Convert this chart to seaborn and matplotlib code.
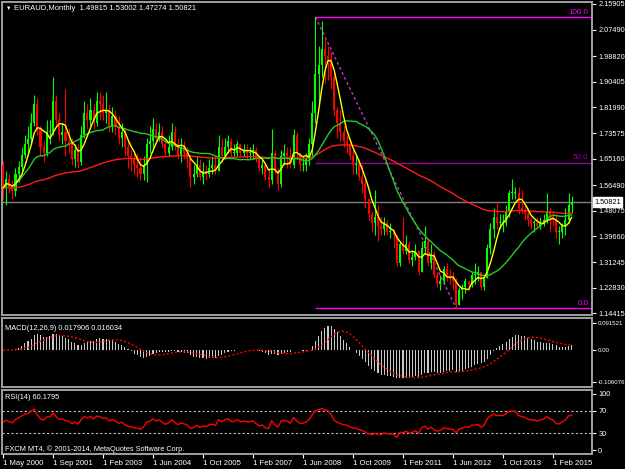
import matplotlib
matplotlib.use("Agg")
import matplotlib.pyplot as plt
import matplotlib.transforms as mtrans
import numpy as np
import pandas as pd
import seaborn as sns

# monthly EURAUD bars, May 2000 .. Aug 2015 (one month missing in 2002, as in the terminal)
closes = [
    1.555, 1.585, 1.56, 1.545, 1.60, 1.625, 1.665, 1.70,                          # 2000
    1.715, 1.77, 1.83, 1.75, 1.69, 1.67, 1.74, 1.74, 1.84, 1.78, 1.73, 1.74,      # 2001
    1.71, 1.70, 1.65, 1.68, 1.64, 1.73, 1.80, 1.78, 1.81, 1.77, 1.84,             # 2002
    1.83, 1.80, 1.81, 1.76, 1.79, 1.76, 1.72, 1.74, 1.69, 1.66, 1.65, 1.63,       # 2003
    1.62, 1.60, 1.63, 1.70, 1.71, 1.75, 1.72, 1.74, 1.70, 1.67, 1.69, 1.74,       # 2004
    1.70, 1.66, 1.69, 1.67, 1.65, 1.59, 1.60, 1.63, 1.59, 1.61, 1.60, 1.62,       # 2005
    1.63, 1.61, 1.69, 1.66, 1.69, 1.71, 1.67, 1.67, 1.70, 1.67, 1.68, 1.67,       # 2006
    1.67, 1.68, 1.65, 1.62, 1.63, 1.59, 1.58, 1.67, 1.61, 1.57, 1.66, 1.67,       # 2007
    1.66, 1.63, 1.73, 1.67, 1.63, 1.63, 1.65, 1.70, 1.80, 1.93, 1.96, 2.01,       # 2008
    1.99, 1.98, 1.92, 1.81, 1.77, 1.74, 1.71, 1.70, 1.66, 1.63, 1.63, 1.59,       # 2009
    1.57, 1.52, 1.47, 1.44, 1.46, 1.43, 1.42, 1.44, 1.41, 1.41, 1.40, 1.31,       # 2010
    1.37, 1.35, 1.37, 1.32, 1.33, 1.35, 1.28, 1.36, 1.38, 1.31, 1.34, 1.27,       # 2011
    1.24, 1.25, 1.29, 1.27, 1.26, 1.25, 1.17, 1.22, 1.23, 1.25, 1.24, 1.27,       # 2012
    1.27, 1.28, 1.23, 1.26, 1.36, 1.42, 1.46, 1.44, 1.44, 1.44, 1.48, 1.54,       # 2013
    1.54, 1.54, 1.49, 1.48, 1.47, 1.45, 1.44, 1.44, 1.43, 1.44, 1.45, 1.48,       # 2014
    1.46, 1.45, 1.41, 1.41, 1.43, 1.45, 1.49815, 1.50821,                         # 2015
]
highs = [
    1.645, 1.61, 1.60, 1.58, 1.62, 1.645, 1.69, 1.73,
    1.76, 1.80, 1.86, 1.85, 1.76, 1.71, 1.78, 1.78, 1.92, 1.86, 1.80, 1.77,
    1.88, 1.75, 1.72, 1.70, 1.70, 1.76, 1.84, 1.83, 1.85, 1.83, 1.87,
    1.87, 1.86, 1.87, 1.83, 1.82, 1.81, 1.79, 1.77, 1.75, 1.71, 1.68, 1.67,
    1.67, 1.65, 1.66, 1.72, 1.76, 1.785, 1.77, 1.77, 1.76, 1.72, 1.73, 1.77,
    1.76, 1.72, 1.72, 1.71, 1.69, 1.66, 1.63, 1.66, 1.65, 1.64, 1.63, 1.65,
    1.66, 1.66, 1.73, 1.72, 1.72, 1.73, 1.72, 1.70, 1.71, 1.70, 1.70, 1.70,
    1.69, 1.70, 1.69, 1.66, 1.65, 1.64, 1.62, 1.75, 1.68, 1.62, 1.68, 1.70,
    1.69, 1.69, 1.75, 1.74, 1.67, 1.66, 1.67, 1.72, 1.84, 2.116, 2.02, 2.103,
    2.05, 2.02, 2.00, 1.94, 1.82, 1.81, 1.76, 1.73, 1.72, 1.68, 1.66, 1.65,
    1.63, 1.58, 1.52, 1.48, 1.55, 1.50, 1.46, 1.46, 1.45, 1.44, 1.42, 1.40,
    1.38, 1.46, 1.40, 1.38, 1.35, 1.37, 1.35, 1.38, 1.43, 1.39, 1.37, 1.35,
    1.28, 1.27, 1.30, 1.31, 1.29, 1.28, 1.26, 1.23, 1.24, 1.26, 1.25, 1.28,
    1.31, 1.30, 1.28, 1.27, 1.37, 1.44, 1.49, 1.51, 1.47, 1.47, 1.50, 1.55,
    1.586, 1.56, 1.56, 1.55, 1.50, 1.48, 1.46, 1.45, 1.46, 1.46, 1.47, 1.54,
    1.49, 1.48, 1.47, 1.43, 1.44, 1.49, 1.54, 1.53002,
]
lows = [
    1.52, 1.50, 1.54, 1.52, 1.53, 1.575, 1.61, 1.655,
    1.67, 1.70, 1.76, 1.73, 1.66, 1.64, 1.66, 1.70, 1.73, 1.76, 1.71, 1.70,
    1.66, 1.67, 1.63, 1.625, 1.62, 1.63, 1.72, 1.75, 1.76, 1.75, 1.76,
    1.78, 1.78, 1.77, 1.74, 1.74, 1.73, 1.70, 1.69, 1.66, 1.62, 1.61, 1.60,
    1.59, 1.58, 1.58, 1.575, 1.67, 1.68, 1.70, 1.71, 1.69, 1.66, 1.66, 1.68,
    1.68, 1.65, 1.64, 1.65, 1.62, 1.56, 1.57, 1.59, 1.58, 1.57, 1.58, 1.59,
    1.60, 1.60, 1.61, 1.64, 1.65, 1.67, 1.66, 1.66, 1.66, 1.66, 1.66, 1.65,
    1.65, 1.65, 1.64, 1.61, 1.60, 1.58, 1.56, 1.57, 1.60, 1.55, 1.56, 1.63,
    1.62, 1.62, 1.62, 1.65, 1.61, 1.61, 1.61, 1.63, 1.66, 1.77, 1.83, 1.92,
    1.90, 1.91, 1.88, 1.79, 1.72, 1.71, 1.69, 1.67, 1.65, 1.60, 1.60, 1.58,
    1.54, 1.49, 1.45, 1.41, 1.40, 1.38, 1.40, 1.40, 1.40, 1.39, 1.36, 1.30,
    1.30, 1.34, 1.34, 1.31, 1.30, 1.32, 1.27, 1.28, 1.34, 1.30, 1.29, 1.26,
    1.23, 1.22, 1.24, 1.25, 1.24, 1.22, 1.161, 1.17, 1.19, 1.21, 1.22, 1.23,
    1.24, 1.25, 1.22, 1.22, 1.26, 1.34, 1.39, 1.42, 1.42, 1.41, 1.43, 1.46,
    1.52, 1.52, 1.47, 1.47, 1.45, 1.43, 1.42, 1.41, 1.42, 1.42, 1.43, 1.44,
    1.41, 1.43, 1.39, 1.37, 1.39, 1.40, 1.44, 1.47274,
]
first_open = 1.63

date_labels = ["1 May 2000", "1 Sep 2001", "1 Feb 2003", "1 Jun 2004", "1 Oct 2005",
               "1 Feb 2007", "1 Jun 2008", "1 Oct 2009", "1 Feb 2011", "1 Jun 2012",
               "1 Oct 2013", "1 Feb 2015"]
label_every = 16
price_ticks = [2.15905, 2.07490, 1.98820, 1.90405, 1.81990, 1.73575, 1.65160,
               1.56490, 1.48075, 1.39660, 1.31245, 1.22830, 1.14415]
macd_ticks = [0.091521, 0.0, -0.106076]
macd_tick_labels = ["0.091521", "0.00", "-0.106076"]
rsi_ticks = [100, 70, 30, 0]

fib_bar_high, fib_price_high = 100, 2.116
fib_bar_low, fib_price_low = 145, 1.161
last_price = 1.50821

W, H = 625, 469
FS = 5.3


def px(x, y):
    return x / W, 1 - y / H


def main():
    sns.set_style("dark", {"axes.facecolor": "black", "figure.facecolor": "black"})
    plt.rcParams["font.family"] = ["Liberation Sans", "DejaVu Sans"]

    n = len(closes)
    opens = [first_open] + closes[:-1]
    df = pd.DataFrame({"bar": np.arange(n), "open": opens, "high": highs,
                       "low": lows, "close": closes})
    c = df["close"]
    df["ma_fast"] = c.rolling(5, min_periods=1).mean()
    df["ma_mid"] = c.rolling(21, min_periods=1).mean()
    df["ma_slow"] = c.ewm(span=100, adjust=False).mean()
    ema12 = c.ewm(span=12, adjust=False).mean()
    ema26 = c.ewm(span=26, adjust=False).mean()
    df["macd"] = ema12 - ema26
    df["signal"] = df["macd"].rolling(9, min_periods=1).mean()
    # Wilder RSI, started from a neutral state
    delta = c.diff()
    seed = delta.abs().mean() / 2
    up = delta.clip(lower=0).fillna(seed)
    down = (-delta.clip(upper=0)).fillna(seed)
    gain = up.ewm(alpha=1 / 14, adjust=False).mean()
    loss = down.ewm(alpha=1 / 14, adjust=False).mean()
    df["rsi"] = 100 - 100 / (1 + gain / loss)

    fig = plt.figure(figsize=(W / 100, H / 100), dpi=100)
    ax = fig.add_axes([2 / W, 1 - 315 / H, 590 / W, 313 / H])
    ax_m = fig.add_axes([2 / W, 1 - 387 / H, 590 / W, 69 / H])
    ax_r = fig.add_axes([2 / W, 1 - 454 / H, 590 / W, 64 / H])

    xlim = (-0.32, 188.5)

    # candles
    bull = df["close"] >= df["open"]
    colors = np.where(bull, "#00ff00", "#ff0000")
    ax.vlines(df["bar"], df["low"], df["high"], colors=colors, linewidth=0.8, zorder=3)
    body_lo = np.minimum(df["open"], df["close"])
    body_h = np.maximum(np.abs(df["close"] - df["open"]), 0.003)
    ax.bar(df["bar"], body_h, bottom=body_lo, width=0.65, color=colors, linewidth=0, zorder=3)

    sns.lineplot(data=df, x="bar", y="ma_slow", color="#ff1a1a", linewidth=1, ax=ax, zorder=4)
    sns.lineplot(data=df, x="bar", y="ma_mid", color="#22cc22", linewidth=1, ax=ax, zorder=4)
    sns.lineplot(data=df, x="bar", y="ma_fast", color="#ffff00", linewidth=1, ax=ax, zorder=4)

    # fibonacci levels
    fib_mid = (fib_price_high + fib_price_low) / 2
    ax.hlines([fib_price_high, fib_price_low], fib_bar_high, xlim[1], colors="#ff00ff", linewidth=1, zorder=2)
    ax.hlines(fib_mid, fib_bar_high, xlim[1], colors="#a000a0", linewidth=1, zorder=2)
    ax.plot([fib_bar_high, fib_bar_low], [fib_price_high, fib_price_low], color="#cc33cc",
            linestyle=(0, (2, 2)), linewidth=1, zorder=2)
    for lvl, txt, col in [(fib_price_high, "100.0", "#ff00ff"), (fib_mid, "50.0", "#a000a0"),
                          (fib_price_low, "0.0", "#ff00ff")]:
        ax.text(xlim[1] - 1.2, lvl + 0.004, txt, color=col, fontsize=FS + 0.5, ha="right", va="bottom")

    ax.axhline(last_price, color="#808080", linewidth=1, zorder=1)
    ax.set_ylim(1.1386, 2.1656)
    ax.set_yticks(price_ticks)
    ax.set_yticklabels([f"{t:.5f}" for t in price_ticks])
    trans = mtrans.blended_transform_factory(ax.transAxes, ax.transData)
    ax.text(1.004, last_price, f"{last_price:.5f}", transform=trans, color="black",
            fontsize=FS, va="center", ha="left",
            bbox=dict(boxstyle="square,pad=0.2", fc="white", ec="white"), clip_on=False)

    # MACD
    ax_m.bar(df["bar"], df["macd"], width=0.35, color="#c8c8c8", linewidth=0)
    sns.lineplot(data=df, x="bar", y="signal", color="#ff0000", linewidth=1,
                 linestyle=(0, (1.5, 1.5)), ax=ax_m)
    ax_m.set_ylim(-0.1240, 0.1095)
    ax_m.set_yticks(macd_ticks)
    ax_m.set_yticklabels(macd_tick_labels)

    # RSI
    for lvl in (70, 30):
        ax_r.axhline(lvl, color="#c0c0c0", linewidth=0.8, linestyle=(0, (2, 2)))
    sns.lineplot(data=df, x="bar", y="rsi", color="#ff0000", linewidth=1, ax=ax_r)
    ax_r.set_ylim(-7.1, 107.1)
    ax_r.set_yticks(rsi_ticks)
    ax_r.set_yticklabels([str(t) for t in rsi_ticks])

    for a in (ax, ax_m, ax_r):
        a.set_facecolor("black")
        a.set_xlim(*xlim)
        a.grid(False)
        for s in a.spines.values():
            s.set_color("#a0a0a0")
            s.set_linewidth(1.4)
        a.yaxis.tick_right()
        a.tick_params(axis="y", colors="white", labelsize=FS, length=3, width=0.8,
                      direction="out", pad=1.5, right=True, left=False, labelleft=False)
        a.tick_params(axis="x", bottom=False, labelbottom=False)
        a.set_xlabel("")
        a.set_ylabel("")
    ax_m.tick_params(axis="y", labelsize=4.4, pad=1)

    ax_r.set_xticks([i * label_every for i in range(len(date_labels))])
    ax_r.set_xticklabels(date_labels)
    ax_r.tick_params(axis="x", bottom=True, labelbottom=True, colors="white",
                     labelsize=FS + 0.3, length=3, width=0.8, direction="out", pad=1.5)
    for lab in ax_r.get_xticklabels():
        lab.set_horizontalalignment("left")

    # captions
    fig.text(*px(6, 8.5), "\u25bc", color="white", fontsize=4, va="center", ha="left")
    fig.text(*px(14, 8), "EURAUD,Monthly  1.49815 1.53002 1.47274 1.50821",
             color="white", fontsize=FS + 0.2, va="center", ha="left")
    fig.text(*px(5, 328), "MACD(12,26,9) 0.017906 0.016034", color="white",
             fontsize=FS, va="center", ha="left")
    fig.text(*px(5, 397), "RSI(14) 60.1795", color="white", fontsize=FS, va="center", ha="left")
    fig.text(*px(5, 449), "FXCM MT4, \u00a9 2001-2014, MetaQuotes Software Corp.",
             color="white", fontsize=FS, va="center", ha="left")

    fig.savefig("out.png", dpi=100, facecolor="black")


if __name__ == "__main__":
    main()
